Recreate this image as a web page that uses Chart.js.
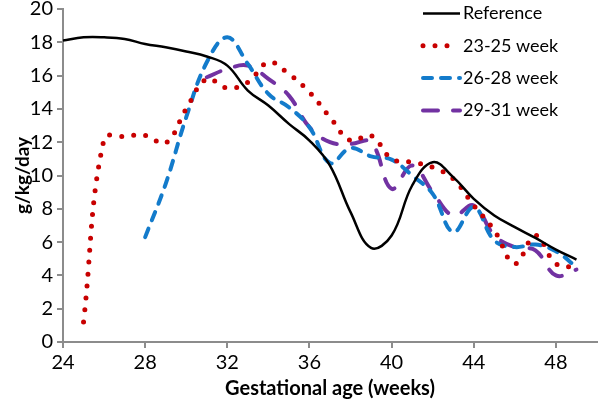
<!DOCTYPE html>
<html>
<head>
<meta charset="utf-8">
<script src="https://cdn.jsdelivr.net/npm/chart.js@4.4.1/dist/chart.umd.min.js"></script>
<style>
  html, body { margin: 0; padding: 0; background: #fff; }
  #wrap { width: 600px; height: 402px; }
</style>
</head>
<body>
<div id="wrap"><canvas id="myChart"></canvas></div>
<script>
// values (g/kg/day by gestational week)
var refWeeks = [24, 25, 26, 27, 28, 29, 30, 31, 32, 33, 34, 35, 36, 37, 38, 39, 40, 41, 42, 43, 44, 45, 46, 47, 48, 49];
var refValues = [18.1, 18.3, 18.3, 18.2, 17.9, 17.7, 17.45, 17.15, 16.6, 15.1, 14.2, 13.1, 12.1, 10.6, 7.8, 5.65, 6.4, 9.4, 10.8, 9.9, 8.6, 7.6, 6.9, 6.25, 5.55, 4.95];

var weeks2325 = [25, 26, 27, 28, 29, 30, 31, 32, 33, 34, 35, 36, 37, 38, 39, 40, 41, 42, 43, 44, 45, 46, 47, 48, 49];
var values2325 = [1.2, 12.2, 12.35, 12.4, 11.95, 14.0, 15.8, 15.25, 15.6, 16.8, 16.1, 15.0, 13.5, 12.1, 12.4, 11.0, 10.8, 10.5, 9.8, 8.2, 6.7, 4.7, 6.4, 4.7, 4.5];

var weeks2628 = [28, 29, 30, 31, 32, 33, 34, 35, 36, 37, 38, 39, 40, 41, 42, 43, 44, 45, 46, 47, 48, 49];
var values2628 = [6.3, 9.5, 13.5, 16.8, 18.3, 16.7, 14.9, 14.1, 12.9, 10.75, 11.65, 11.15, 10.95, 10.0, 8.9, 6.6, 8.1, 6.1, 5.7, 5.85, 5.45, 4.5];

var weeks2931 = [31, 32, 33, 34, 35, 36, 37, 38, 39, 40, 41, 42, 43, 44, 45, 46, 47, 48, 49];
var values2931 = [15.9, 16.4, 16.6, 15.8, 14.8, 12.9, 12.0, 11.9, 12.0, 9.2, 10.6, 9.0, 7.6, 8.2, 6.4, 5.7, 5.5, 4.0, 4.35];

var seriesLabels = ['Reference', '23-25 week', '26-28 week', '29-31 week'];
var xTickValues = [24, 28, 32, 36, 40, 44, 48];

function toPoints(xs, ys) {
    return xs.map(function (x, i) { return {x: x, y: ys[i]}; });
}

var axisGray = '#8c8c8c';
var fontFamily = 'Lato, "Liberation Sans", sans-serif';

// legend drawn inside the plot, top right, like the original
var insideLegend = {
    id: 'insideLegend',
    afterDraw: function (chart) {
        var ctx = chart.ctx;
        chart.data.datasets.forEach(function (ds, i) {
            var y = 13.5 + i * 32.3;
            var x0 = 423, x1 = (i === 1) ? 450 : 460;
            ctx.save();
            ctx.strokeStyle = ds.borderColor;
            ctx.lineWidth = ds.borderWidth;
            ctx.lineCap = ds.borderCapStyle || 'butt';
            ctx.setLineDash(ds.borderDash || []);
            ctx.beginPath();
            ctx.moveTo(x0, y);
            ctx.lineTo(x1, y);
            ctx.stroke();
            ctx.setLineDash([]);
            ctx.fillStyle = '#000';
            ctx.font = '18px ' + fontFamily;
            ctx.textBaseline = 'middle';
            ctx.textAlign = 'left';
            ctx.fillText(ds.label, 463, y);
            ctx.restore();
        });
    }
};

var ctx = document.getElementById('myChart');
var myChart = new Chart(ctx, {
    type: 'line',
    data: {
        datasets: [{
            label: seriesLabels[0],
            data: toPoints(refWeeks, refValues),
            borderColor: '#000000',
            borderWidth: 2.5,
            pointRadius: 0,
            tension: 0.4
        }, {
            label: seriesLabels[1],
            data: toPoints(weeks2325, values2325),
            borderColor: '#c80000',
            borderWidth: 5,
            borderDash: [0, 12],
            borderCapStyle: 'round',
            pointRadius: 0,
            tension: 0.4
        }, {
            label: seriesLabels[2],
            data: toPoints(weeks2628, values2628),
            borderColor: '#137bcb',
            borderWidth: 4,
            borderDash: [9, 9],
            borderCapStyle: 'round',
            pointRadius: 0,
            tension: 0.4
        }, {
            label: seriesLabels[3],
            data: toPoints(weeks2931, values2931),
            borderColor: '#7232a2',
            borderWidth: 4,
            borderDash: [15, 15],
            borderCapStyle: 'round',
            pointRadius: 0,
            tension: 0.4
        }]
    },
    options: {
        responsive: true,
        maintainAspectRatio: false,
        animation: false,
        layout: {
            padding: {top: 9, right: 3, left: 0, bottom: 0}
        },
        plugins: {
            legend: {display: false},
            tooltip: {enabled: false}
        },
        scales: {
            x: {
                type: 'linear',
                min: 24,
                max: 50,
                ticks: {
                    stepSize: 4,
                    color: '#000',
                    padding: 3,
                    maxRotation: 0,
                    font: {family: fontFamily, size: 20}
                },
                afterBuildTicks: function (scale) {
                    scale.ticks = xTickValues.map(function (v) { return {value: v}; });
                },
                afterFit: function (scale) {
                    scale.height = 60;
                    scale.paddingLeft = 0;
                    scale.paddingRight = 0;
                },
                grid: {
                    drawOnChartArea: false,
                    drawTicks: true,
                    tickLength: 6,
                    color: axisGray,
                    lineWidth: 2
                },
                border: {display: true, color: axisGray, width: 2},
                title: {
                    display: true,
                    text: 'Gestational age (weeks)',
                    color: '#000',
                    padding: {top: 0, bottom: 1},
                    font: {family: fontFamily, size: 20, weight: 'bold'}
                }
            },
            y: {
                min: 0,
                max: 20,
                ticks: {
                    stepSize: 2,
                    color: '#000',
                    padding: 4,
                    font: {family: fontFamily, size: 20}
                },
                afterFit: function (scale) {
                    scale.width = 63;
                    scale.paddingTop = 0;
                    scale.paddingBottom = 0;
                },
                grid: {
                    drawOnChartArea: false,
                    drawTicks: true,
                    tickLength: 6,
                    color: axisGray,
                    lineWidth: 2
                },
                border: {display: true, color: axisGray, width: 2},
                title: {
                    display: true,
                    text: 'g/kg/day',
                    color: '#000',
                    padding: {top: 11, bottom: 0},
                    font: {family: fontFamily, size: 19, weight: 'bold'}
                }
            }
        }
    },
    plugins: [insideLegend]
});
</script>
</body>
</html>
